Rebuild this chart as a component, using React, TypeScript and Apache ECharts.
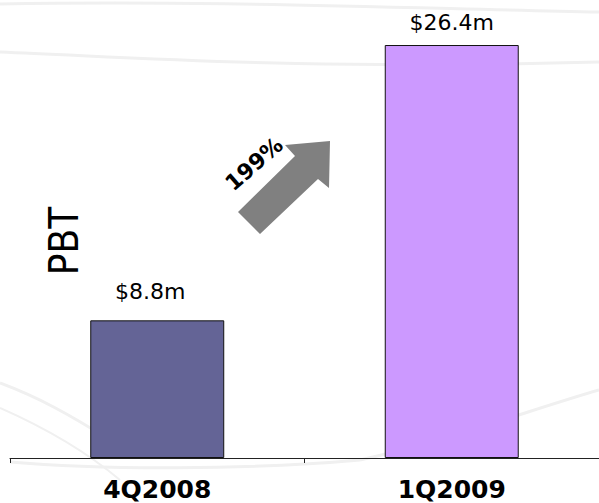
import React, { useEffect, useRef } from "react";
import * as echarts from "echarts";

const categories = ["4Q2008", "1Q2009"];
const pbtValues = [8.8, 26.4];
const valueLabels = ["$8.8m", "$26.4m"];
const barColors = ["#646496", "#CC99FF"];
const growthLabel = "199%";
const axisTitle = "PBT";

export default function App() {
  const ref = useRef<HTMLDivElement>(null);
  useEffect(() => {
    if (!ref.current) return;
    const chart = echarts.init(ref.current, null, { renderer: "svg" });
    const curve = (x1: number, y1: number, cx1: number, cy1: number, cx2: number, cy2: number, x2: number, y2: number, w = 3) => ({
      type: "bezierCurve",
      z: -10,
      silent: true,
      shape: { x1, y1, cpx1: cx1, cpy1: cy1, cpx2: cx2, cpy2: cy2, x2, y2 },
      style: { stroke: "#f0f0f0", lineWidth: w, fill: null },
    });
    chart.setOption({
      animation: false,
      grid: { left: 10, right: 0, top: 20, bottom: 45 },
      xAxis: {
        type: "category",
        data: categories,
        boundaryGap: true,
        axisLine: { show: true, lineStyle: { color: "#222", width: 1 } },
        axisTick: { show: true, length: 5, lineStyle: { color: "#222" } },
        axisLabel: {
          margin: 20,
          lineHeight: 22,
          color: "#000",
          fontFamily: "DejaVu Sans",
          fontWeight: "bold",
          fontSize: 25,
        },
      },
      yAxis: { type: "value", min: 0, max: 28, show: false },
      series: [
        {
          type: "bar",
          barWidth: "45.5%",
          data: pbtValues.map((v, i) => ({
            value: v,
            itemStyle: { color: barColors[i], borderColor: "#111", borderWidth: 1 },
            label: {
              show: true,
              position: "top",
              distance: i === 0 ? 18 : 12,
              offset: i === 0 ? [-7, 0] : [0, 0],
              formatter: valueLabels[i],
              color: "#000",
              fontFamily: "DejaVu Sans",
              fontSize: 22,
            },
          })),
        },
      ],
      graphic: [
        curve(0, 4, 200, 0, 400, 8, 599, 12, 3),
        curve(0, 52, 150, 58, 300, 70, 599, 62, 3),
        curve(0, 383, 40, 398, 70, 415, 110, 440, 3),
        curve(0, 408, 50, 430, 90, 455, 120, 480, 2),
        curve(10, 462, 100, 470, 250, 470, 360, 460, 3),
        curve(360, 460, 450, 440, 530, 410, 599, 390, 3),
        {
          type: "polygon",
          z: 5,
          shape: {
            points: [
              [330, 141],
              [285, 145],
              [295, 156],
              [238, 212],
              [260, 234],
              [318, 179],
              [329, 188],
            ],
          },
          style: { fill: "#808080" },
        },
        {
          type: "text",
          z: 6,
          x: 254,
          y: 164,
          rotation: 0.72,
          style: {
            text: growthLabel,
            fill: "#000",
            font: "bold 22px 'DejaVu Sans'",
            align: "center",
            verticalAlign: "middle",
          },
        },
        {
          type: "text",
          z: 6,
          x: 64,
          y: 241,
          rotation: Math.PI / 2,
          scaleY: 1.15,
          style: {
            text: axisTitle,
            fill: "#000",
            font: "36px 'DejaVu Sans'",
            align: "center",
            verticalAlign: "middle",
          },
        },
      ],
    });
    return () => chart.dispose();
  }, []);
  return (
    <div
      ref={ref}
      style={{ position: "fixed", left: 0, top: 0, width: 599, height: 503, background: "#fff" }}
    />
  );
}
